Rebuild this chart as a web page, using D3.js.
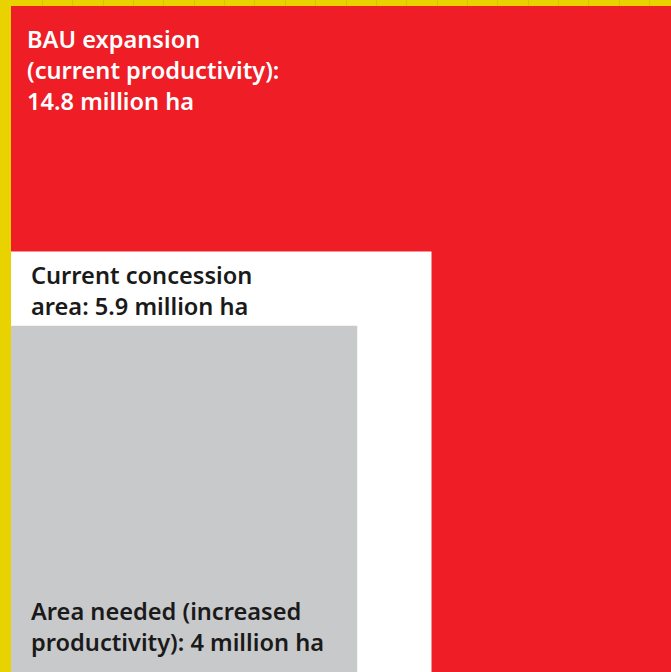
<!DOCTYPE html>
<html>
<head>
<meta charset="utf-8">
<script src="https://cdn.jsdelivr.net/npm/d3@7"></script>
<style>
  html, body { margin: 0; padding: 0; background: #e8d200; }
  svg { display: block; }
  text { font-family: "Noto Sans", "Open Sans", sans-serif; font-weight: 600; }
</style>
</head>
<body>
<svg id="chart" width="671" height="672"></svg>
<script>
// Land area scenarios, million hectares
const scenarios = ["BAU expansion", "Current concession", "Area needed"];
const areas = [14.8, 5.9, 4];
const labelLines = [
  ["BAU expansion", "(current productivity):", "14.8 million ha"],
  ["Current concession", "area: 5.9 million ha"],
  ["Area needed (increased", "productivity): 4 million ha"]
];
const fills = ["#ee1d26", "#ffffff", "#c8c9cb"];
const textColors = ["#ffffff", "#1a1a1a", "#1a1a1a"];

const width = 671, height = 672;
const originX = 11, originY = 672;

const svg = d3.select("#chart");

// Background grid (vertical rules in the yellow field)
const gridX = d3.range(42, width, 30.35);
svg.append("g").selectAll("line")
  .data(gridX)
  .join("line")
  .attr("x1", d => Math.round(d) + 0.5).attr("x2", d => Math.round(d) + 0.5)
  .attr("y1", 0).attr("y2", height)
  .attr("stroke", "#d6c400").attr("stroke-width", 1);

// Side of each square is proportional to the square root of its area
const side = d3.scaleSqrt().domain([0, d3.max(areas)]).range([0, 666]);

const data = areas.map((v, i) => ({ name: scenarios[i], value: v, lines: labelLines[i], fill: fills[i], color: textColors[i] }));

svg.append("g").selectAll("rect")
  .data(data)
  .join("rect")
  .attr("x", originX)
  .attr("y", d => originY - side(d.value))
  .attr("width", d => side(d.value))
  .attr("height", d => side(d.value))
  .attr("fill", d => d.fill);

// Labels: top-left of the first two squares, bottom-left of the innermost one
const lineH = 31;
const labels = svg.append("g").selectAll("text")
  .data(data)
  .join("text")
  .attr("fill", d => d.color)
  .attr("font-size", 23.6);

labels.each(function(d, i) {
  const t = d3.select(this);
  const top = originY - side(d.value);
  let x, y0;
  if (i === 0) { x = 27; y0 = top + 42; }
  else if (i === 1) { x = 31; y0 = top + 33; }
  else { x = 31; y0 = originY - 21 - lineH * (d.lines.length - 1); }
  d.lines.forEach((line, j) => {
    t.append("tspan").attr("x", x).attr("y", y0 + j * lineH).text(line);
  });
});
</script>
</body>
</html>
